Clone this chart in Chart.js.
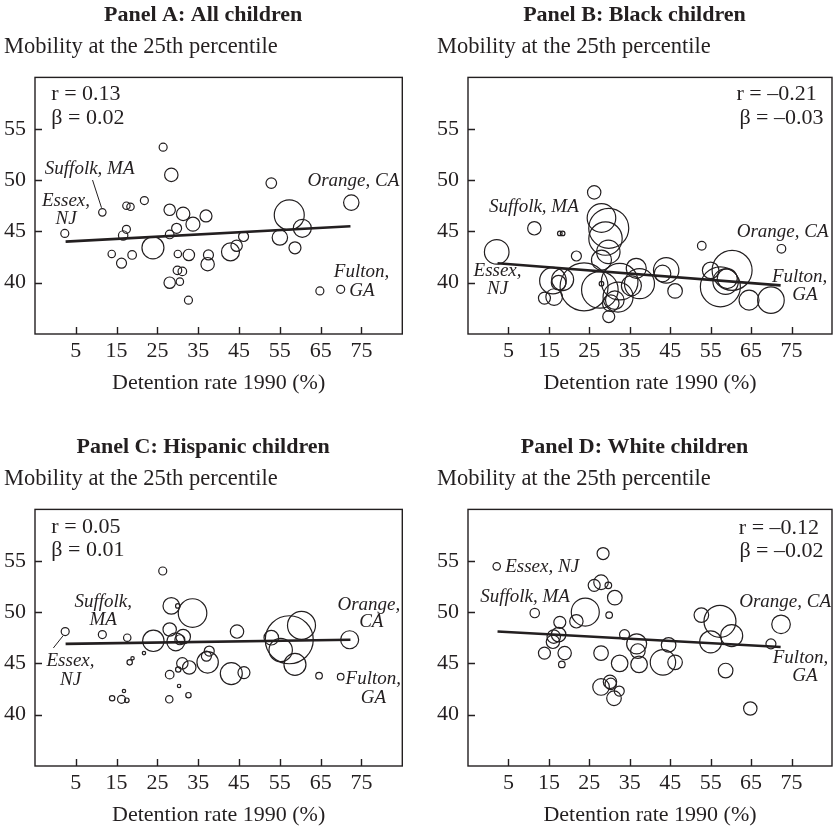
<!DOCTYPE html>
<html>
<head>
<meta charset="utf-8">
<script src="https://cdn.jsdelivr.net/npm/chart.js@4.4.1/dist/chart.umd.min.js"></script>
<style>
  html, body { margin: 0; padding: 0; background: #fff; }
  #wrap { position: relative; width: 835px; height: 828px; overflow: hidden; }
  canvas { position: absolute; }
</style>
</head>
<body>
<div id="wrap">
  <canvas id="chartA" width="409" height="430" style="left:0;top:0"></canvas>
  <canvas id="chartB" width="402" height="430" style="left:433px;top:0"></canvas>
  <canvas id="chartC" width="409" height="396" style="left:0;top:432px"></canvas>
  <canvas id="chartD" width="402" height="396" style="left:433px;top:432px"></canvas>
</div>
<script>
const xTicks = [5, 15, 25, 35, 45, 55, 65, 75];
const yTicks = [40, 45, 50, 55];

// Panel A: all children
const aX = [2.3, 11.5, 17.4, 18.4, 17.4, 16.6, 13.8, 16.2, 18.8, 21.8, 23.9, 26.4, 28.4, 28.0, 28.0, 29.7, 31.3, 33.7, 36.9, 30.0,
            32.7, 37.5, 37.3, 29.9, 31.1, 28.0, 30.5, 32.6, 42.9, 44.4, 46.1, 52.9, 57.3, 55.0, 60.5, 58.7, 64.8, 69.9, 72.5];
const aY = [44.8, 46.85, 47.5, 47.4, 45.2, 44.6, 42.8, 41.9, 42.7, 48.0, 43.4, 53.2, 50.5, 47.1, 44.7, 45.3, 46.7, 45.7, 46.5, 42.8,
            42.7, 42.7, 41.8, 41.2, 41.1, 40.0, 40.1, 38.3, 43.0, 43.6, 44.5, 49.7, 46.6, 44.4, 45.3, 43.4, 39.2, 39.35, 47.8];
const aR = [4, 3.7, 3.7, 3.7, 4, 4.7, 3.7, 5, 4.3, 4, 11, 4, 6.7, 5.7, 4.3, 5, 6.7, 7, 6, 3.7,
            5.7, 5, 6.7, 4.3, 4.3, 5.7, 3.7, 4, 9, 5.7, 5, 5.3, 15, 7.7, 9, 6, 4, 4, 7.7];
const aFitX = [2.5, 72.3];
const aFitY = [44.0, 45.5];

// Panel B: black children
const bX = [2.1, 11.4, 17.7, 18.4, 21.8, 13.9, 16.3, 16.0, 17.4, 18.4, 26.2, 28.0, 29.8, 29.0, 29.7, 28.0, 23.7, 27.6, 28.0, 32.5,
            32.1, 31.3, 30.3, 29.8, 36.6, 37.4, 35.4, 44.0, 43.1, 46.2, 52.8, 55.0, 57.4, 60.3, 59.1, 58.7, 64.5, 69.9, 72.5];
const bY = [43.0, 45.3, 44.8, 44.8, 42.6, 38.5, 38.6, 40.2, 40.0, 40.3, 48.8, 46.3, 45.3, 44.3, 43.0, 42.2, 39.6, 39.3, 39.9, 40.1,
            38.6, 38.3, 38.0, 36.7, 41.4, 39.9, 39.7, 41.2, 40.9, 39.2, 43.6, 41.2, 39.6, 41.2, 40.4, 40.1, 38.3, 38.3, 43.3];
const bR = [12.3, 6.7, 2.3, 2.3, 5, 6, 8.3, 13.3, 7.3, 11, 6.7, 14.3, 20, 16.7, 11.7, 10, 24, 18.3, 2.3, 18.3,
            15, 9.3, 8.3, 6, 10, 15, 10, 12.7, 8.3, 7.3, 4.3, 8.3, 20, 20, 10, 12.7, 10, 13.3, 4.3];
const bFitX = [2.3, 72.3];
const bFitY = [41.9, 39.74];

// Panel C: hispanic children
const cX = [2.4, 11.5, 17.6, 18.2, 18.9, 21.7, 13.9, 16.2, 16.8, 17.5, 24.0, 26.3, 28.4, 30.0, 33.6, 28.0, 29.5, 31.3, 30.5, 28.0,
            27.9, 30.1, 31.1, 32.8, 30.3, 32.6, 37.7, 37.0, 37.3, 44.5, 43.1, 46.2, 52.9, 57.3, 55.2, 60.3, 58.7, 64.6, 69.9, 72.1];
const cY = [48.1, 47.8, 47.5, 45.1, 45.5, 46.0, 41.6, 41.5, 42.3, 41.4, 47.2, 54.0, 50.6, 50.6, 49.9, 48.3, 47.1, 47.6, 47.3, 43.9,
            41.5, 44.4, 45.0, 44.6, 42.8, 41.9, 46.2, 45.7, 45.1, 48.1, 44.0, 44.1, 47.5, 47.3, 46.3, 48.7, 44.9, 43.8, 43.7, 47.3];
const cR = [4, 4, 3.7, 2.7, 1.7, 1.7, 2.7, 4, 1.7, 2.3, 10.7, 4, 8.3, 2.3, 14.3, 6.7, 9, 7.3, 5, 4.3,
            3.7, 2.7, 5.7, 6.7, 1.7, 2.7, 5, 5, 10.7, 6.7, 11, 6, 7.3, 24, 11.7, 14, 11, 3.3, 3.3, 9];
const cFitX = [2.5, 72.3];
const cFitY = [46.9, 47.3];

// Panel D: white children
const dX = [2.1, 11.5, 13.9, 17.7, 16.2, 17.4, 16.0, 18.9, 18.2, 21.8, 24.0, 26.2, 27.9, 29.7, 28.4, 31.3, 29.9, 27.9, 27.9, 30.1,
            30.3, 31.1, 32.4, 32.5, 33.7, 36.7, 37.0, 37.3, 43.2, 44.6, 46.2, 52.7, 57.3, 55.0, 60.2, 58.7, 64.8, 69.9, 72.4];
const dY = [54.45, 49.9, 46.0, 49.0, 47.6, 47.8, 47.1, 46.0, 44.9, 49.1, 50.0, 52.6, 52.9, 52.6, 55.7, 51.4, 49.7, 46.0, 42.7, 43.2,
            43.0, 41.6, 42.3, 45.0, 47.8, 46.9, 46.2, 44.9, 45.1, 46.8, 45.1, 49.7, 49.1, 47.1, 47.7, 44.3, 40.6, 46.9, 48.8];
const dR = [3.7, 4.7, 6, 6, 6.7, 7.3, 6.7, 6.7, 3.3, 6.7, 14, 6, 7.3, 3.3, 6, 7.3, 3.3, 7.3, 8.3, 6.7,
            5.7, 7.3, 5, 8.3, 5, 10, 7.3, 8.3, 12.7, 7.3, 7.3, 7.3, 16, 11, 11, 7.3, 6.7, 5, 9.3];
const dFitX = [2.3, 72.3];
const dFitY = [48.1, 46.6];

const SERIF = "'Liberation Serif', 'Times New Roman', serif";
const INK = '#231f20';

// frame, inward tick marks, and the text notes inside the plot
const panelDecor = {
  id: 'panelDecor',
  afterDatasetsDraw(chart, args, opts) {
    const ctx = chart.ctx;
    const a = chart.chartArea;
    const xs = chart.scales.x, ys = chart.scales.y;
    ctx.save();
    ctx.strokeStyle = INK;
    ctx.lineWidth = 1.4;
    ctx.strokeRect(a.left, a.top, a.right - a.left, a.bottom - a.top);
    ctx.beginPath();
    xs.ticks.forEach(t => {
      const px = Math.round(xs.getPixelForValue(t.value)) + 0.5;
      ctx.moveTo(px, a.bottom);
      ctx.lineTo(px, a.bottom - 7);
    });
    ys.ticks.forEach(t => {
      const py = Math.round(ys.getPixelForValue(t.value)) + 0.5;
      ctx.moveTo(a.left, py);
      ctx.lineTo(a.left + 7, py);
    });
    ctx.stroke();

    ctx.lineWidth = 1;
    (opts.leaders || []).forEach(l => {
      ctx.beginPath();
      ctx.moveTo(xs.getPixelForValue(l[0]), ys.getPixelForValue(l[1]));
      ctx.lineTo(xs.getPixelForValue(l[2]), ys.getPixelForValue(l[3]));
      ctx.stroke();
    });

    ctx.fillStyle = INK;
    ctx.textBaseline = 'middle';
    (opts.labels || []).forEach(l => {
      ctx.font = l.italic ? 'italic 19px ' + SERIF : '22px ' + SERIF;
      ctx.textAlign = l.align || 'center';
      ctx.fillText(l.text, xs.getPixelForValue(l.x), ys.getPixelForValue(l.y));
    });
    ctx.restore();
  }
};

function makePanel(id, title, xs, ys, rs, fitX, fitY, notes, padRight, padBottom) {
  const points = xs.map((x, i) => ({ x: x, y: ys[i], r: rs[i] }));
  new Chart(document.getElementById(id), {
    type: 'bubble',
    data: {
      datasets: [{
        data: points,
        backgroundColor: 'rgba(0,0,0,0)',
        borderColor: INK,
        borderWidth: 1.2
      }, {
        type: 'line',
        data: [{ x: fitX[0], y: fitY[0] }, { x: fitX[1], y: fitY[1] }],
        borderColor: INK,
        borderWidth: 2.6,
        pointRadius: 0,
        fill: false
      }]
    },
    options: {
      responsive: false,
      animation: false,
      events: [],
      layout: { autoPadding: false, padding: { left: 4, right: padRight, top: 0, bottom: padBottom } },
      plugins: {
        legend: { display: false },
        tooltip: { enabled: false },
        title: {
          display: true,
          text: title,
          color: INK,
          font: { family: SERIF, size: 22, weight: 'bold' },
          padding: { top: 2, bottom: 4 }
        },
        subtitle: {
          display: true,
          text: 'Mobility at the 25th percentile',
          align: 'start',
          color: INK,
          font: { family: SERIF, size: 22.5 },
          padding: { top: 1, bottom: 17 }
        },
        panelDecor: notes
      },
      scales: {
        x: {
          type: 'linear',
          min: -5,
          max: 85,
          afterBuildTicks: s => { s.ticks = xTicks.map(v => ({ value: v })); },
          afterFit: s => { s.height = 62; s.paddingLeft = 0; s.paddingRight = 0; },
          grid: { display: false, drawTicks: false },
          border: { display: false },
          ticks: { color: INK, font: { family: SERIF, size: 22 }, padding: 4, maxRotation: 0, autoSkip: false },
          title: { display: true, text: 'Detention rate 1990 (%)', color: INK, font: { family: SERIF, size: 22 }, padding: 0 }
        },
        y: {
          type: 'linear',
          min: 35,
          max: 60,
          afterBuildTicks: s => { s.ticks = yTicks.map(v => ({ value: v })); },
          afterFit: s => { s.width = 31; s.paddingTop = 0; s.paddingBottom = 0; },
          grid: { display: false, drawTicks: false },
          border: { display: false },
          ticks: { color: INK, font: { family: SERIF, size: 22 }, padding: 9 }
        }
      }
    },
    plugins: [panelDecor]
  });
}

makePanel('chartA', 'Panel A: All children', aX, aY, aR, aFitX, aFitY, {
  labels: [
    { text: 'r = 0.13', x: -1, y: 58.4, align: 'left' },
    { text: 'β = 0.02', x: -1, y: 56.0, align: 'left' },
    { text: 'Suffolk, MA', x: 8.4, y: 51.1, italic: true },
    { text: 'Essex,', x: 2.6, y: 47.95, italic: true },
    { text: 'NJ', x: 2.6, y: 46.2, italic: true },
    { text: 'Orange, CA', x: 73.0, y: 49.9, italic: true },
    { text: 'Fulton,', x: 75.0, y: 41.0, italic: true },
    { text: 'GA', x: 75.1, y: 39.2, italic: true }
  ],
  leaders: [[9.1, 50.0, 11.3, 47.3]]
}, 6.7, 34);

makePanel('chartB', 'Panel B: Black children', bX, bY, bR, bFitX, bFitY, {
  labels: [
    { text: 'r = –0.21', x: 81.2, y: 58.4, align: 'right' },
    { text: 'β = –0.03', x: 82.9, y: 56.0, align: 'right' },
    { text: 'Suffolk, MA', x: 11.3, y: 47.4, italic: true },
    { text: 'Essex,', x: 2.3, y: 41.1, italic: true },
    { text: 'NJ', x: 2.3, y: 39.4, italic: true },
    { text: 'Orange, CA', x: 72.8, y: 44.9, italic: true },
    { text: 'Fulton,', x: 77.0, y: 40.6, italic: true },
    { text: 'GA', x: 78.3, y: 38.8, italic: true }
  ]
}, 3, 34);

makePanel('chartC', 'Panel C: Hispanic children', cX, cY, cR, cFitX, cFitY, {
  labels: [
    { text: 'r = 0.05', x: -1, y: 58.3, align: 'left' },
    { text: 'β = 0.01', x: -1, y: 56.0, align: 'left' },
    { text: 'Suffolk,', x: 11.7, y: 51.0, italic: true },
    { text: 'MA', x: 11.7, y: 49.2, italic: true },
    { text: 'Essex,', x: 3.7, y: 45.2, italic: true },
    { text: 'NJ', x: 3.7, y: 43.4, italic: true },
    { text: 'Orange,', x: 76.8, y: 50.7, italic: true },
    { text: 'CA', x: 77.4, y: 49.0, italic: true },
    { text: 'Fulton,', x: 77.9, y: 43.5, italic: true },
    { text: 'GA', x: 77.9, y: 41.6, italic: true }
  ],
  leaders: [[-0.5, 46.5, 1.9, 47.7]]
}, 6.7, 0);

makePanel('chartD', 'Panel D: White children', dX, dY, dR, dFitX, dFitY, {
  labels: [
    { text: 'r = –0.12', x: 81.8, y: 58.2, align: 'right' },
    { text: 'β = –0.02', x: 82.9, y: 55.9, align: 'right' },
    { text: 'Essex, NJ', x: 4.2, y: 54.4, align: 'left', italic: true },
    { text: 'Suffolk, MA', x: 9.1, y: 51.5, italic: true },
    { text: 'Orange, CA', x: 73.4, y: 51.0, italic: true },
    { text: 'Fulton,', x: 77.2, y: 45.5, italic: true },
    { text: 'GA', x: 78.3, y: 43.8, italic: true }
  ]
}, 3, 0);
</script>
</body>
</html>
